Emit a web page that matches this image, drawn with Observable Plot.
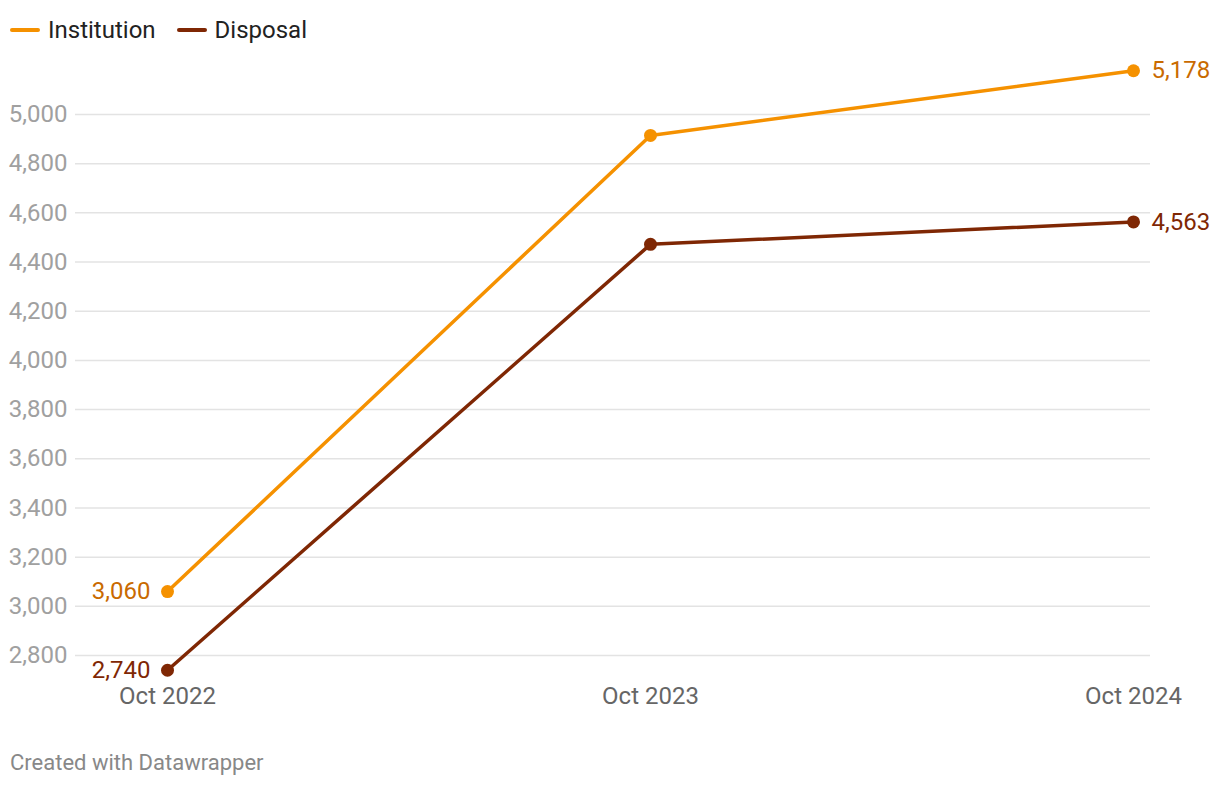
<!DOCTYPE html>
<html>
<head>
<meta charset="utf-8">
<script src="https://cdn.jsdelivr.net/npm/d3@7"></script>
<script src="https://cdn.jsdelivr.net/npm/@observablehq/plot@0.6"></script>
<style>
  html, body { margin: 0; padding: 0; background: #fff; }
  body { width: 1220px; height: 786px; position: relative; font-family: Roboto, sans-serif; overflow: hidden; }
  #legend { height: 60px; display: flex; align-items: center; padding-left: 10px; font-size: 24px; color: #222; }
  .item { display: flex; align-items: center; margin-right: 21px; }
  .sw { width: 30px; height: 4px; border-radius: 2px; margin-right: 8px; }
  #footer { position: absolute; left: 10px; top: 750px; font-size: 22px; color: #888; }
  svg { display: block; overflow: visible; }
</style>
</head>
<body>
<div id="legend"></div>
<div id="chart"></div>
<div id="footer">Created with Datawrapper</div>
<script>
const periods = ["Oct 2022", "Oct 2023", "Oct 2024"];
const institution = [3060, 4915, 5178];
const disposal = [2740, 4472, 4563];
const seriesNames = ["Institution", "Disposal"];
const lineColors = ["#f59100", "#7f2704"];
const labelColors = ["#c96a00", "#7f2704"];
const yTicks = [2800, 3000, 3200, 3400, 3600, 3800, 4000, 4200, 4400, 4600, 4800, 5000];

const rows = [];
[institution, disposal].forEach((vals, s) => {
  vals.forEach((v, i) => rows.push({series: seriesNames[s], period: periods[i], value: v, idx: i}));
});

const legend = document.getElementById("legend");
seriesNames.forEach((n, i) => {
  const it = document.createElement("div");
  it.className = "item";
  it.innerHTML = `<span class="sw" style="background:${lineColors[i]}"></span><span>${n}</span>`;
  legend.appendChild(it);
});

const fmt = d3.format(",");
const chart = Plot.plot({
  width: 1220,
  height: 680,
  marginLeft: 75,
  marginRight: 70,
  marginTop: 0,
  marginBottom: 60,
  style: {fontFamily: "Roboto, sans-serif", fontSize: "24px", background: "#fff", overflow: "visible"},
  x: {type: "point", domain: periods, range: [167, 1133], padding: 0, label: null},
  y: {domain: [2800, 5000], range: [595, 54], label: null},
  color: {domain: seriesNames, range: lineColors},
  marks: [
    Plot.ruleY(yTicks, {stroke: "#e3e3e3", strokeWidth: 1.5}),
    Plot.axisY(yTicks, {tickSize: 0, tickPadding: 8, tickFormat: fmt, fill: "#a0a0a0", fontSize: 24, label: null}),
    Plot.axisX({tickSize: 0, tickPadding: 6, fill: "#666", fontSize: 24, label: null}),
    Plot.line(rows, {x: "period", y: "value", z: "series", stroke: "series", strokeWidth: 3.5}),
    Plot.dot(rows, {x: "period", y: "value", fill: "series", r: 6.5}),
    Plot.text(rows.filter(d => d.idx === 0), {x: "period", y: "value", text: d => fmt(d.value), textAnchor: "end", dx: -17, fill: d => labelColors[seriesNames.indexOf(d.series)], fontSize: 24}),
    Plot.text(rows.filter(d => d.idx === 2), {x: "period", y: "value", text: d => fmt(d.value), textAnchor: "start", dx: 18, fill: d => labelColors[seriesNames.indexOf(d.series)], fontSize: 24})
  ]
});
document.getElementById("chart").appendChild(chart);
</script>
</body>
</html>
